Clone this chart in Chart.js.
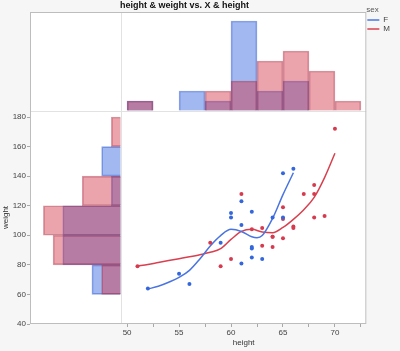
<!DOCTYPE html>
<html>
<head>
<meta charset="utf-8">
<title>height & weight vs. X & height</title>
<script src="https://cdn.jsdelivr.net/npm/chart.js@4.4.1/dist/chart.umd.min.js"></script>
<style>
  body { margin: 0; background: #f6f6f6; }
  #wrap { position: relative; width: 400px; height: 351px; }
</style>
</head>
<body>
<div id="wrap"><canvas id="chart"></canvas></div>
<script>
/* Data */

const chartTitle = "height & weight vs. X & height";

const fHeights = [52, 55, 56, 59, 60, 60, 61, 61, 61, 62, 62, 62, 62, 63, 64, 65, 65, 66];
const fWeights = [64, 74, 67, 95, 115, 112, 123, 107, 81, 116, 92, 91, 85, 84, 112, 142, 112, 145];

const mHeights = [51, 58, 59, 60, 61, 62, 63, 63, 64, 64, 64, 65, 65, 65, 66, 66, 67, 68, 68, 68, 69, 70];
const mWeights = [79, 95, 79, 84, 128, 104, 105, 93, 99, 99, 92, 119, 111, 98, 106, 105, 128, 134, 128, 112, 113, 172];

// smoother curves
const fFitHeights = [52, 53, 54, 55, 56, 57, 58, 59, 60, 61, 62, 62.5, 63, 64, 65, 66];
const fFitWeights = [63.7, 65.5, 68.2, 71.5, 76.3, 84.0, 92.8, 99.8, 104.0, 102.6, 99.0, 98.3, 99.8, 111.4, 127.5, 142.3];

const mFitHeights = [51, 52, 53, 54, 55, 56, 57, 58, 59, 60, 61, 62, 63, 64, 65, 66, 67, 68, 69, 70];
const mFitWeights = [79.2, 80.3, 81.6, 82.9, 84.2, 85.5, 86.9, 88.5, 91.0, 97.2, 102.6, 104.0, 102.2, 101.7, 105.3, 110.8, 117.3, 125.6, 139.0, 155.5];

// histogram counts
const heightBins = [51.25, 53.75, 56.25, 58.75, 61.25, 63.75, 66.25, 68.75, 71.25];
const fHeightCounts = [1, 0, 2, 1, 9, 2, 3, 0, 0];
const mHeightCounts = [1, 0, 0, 2, 3, 5, 6, 4, 1];

const weightBins = [70, 90, 110, 130, 150, 170];
const fWeightCounts = [3, 6, 6, 1, 2, 0];
const mWeightCounts = [2, 7, 8, 4, 0, 1];

const xMajorTicks = [50, 55, 60, 65, 70];
const xMinorTicks = [52.5, 57.5, 62.5, 67.5, 72.5];
const yTicks = [40, 60, 80, 100, 120, 140, 160, 180];

/* Colors */

const fPoint = "#3467dd";
const mPoint = "#d73a4e";
const fLine = "#4a74e0";
const mLine = "#d9404f";
const fFill = "rgba(55,105,225,0.47)";
const mFill = "rgba(210,50,70,0.45)";
const fEdge = "rgba(55,95,205,0.55)";
const mEdge = "rgba(160,35,60,0.45)";

Chart.defaults.font.family = "'Liberation Sans', Arial, sans-serif";
Chart.defaults.font.size = 8;

const toPoints = (xs, ys) => xs.map((x, i) => ({ x: x, y: ys[i] }));

const topBars = counts => heightBins
    .map((h, i) => ({ x: h, y: counts[i] }))
    .filter(d => d.y > 0);

const sideBars = counts => weightBins
    .map((w, i) => ({ x: counts[i], y: w }))
    .filter(d => d.x > 0);

const histBar = (label, data, color, edge, order, extra) => Object.assign({
    type: "bar",
    label: label,
    data: data,
    backgroundColor: color,
    borderColor: edge,
    borderWidth: 1,
    grouped: false,
    barPercentage: 1,
    categoryPercentage: 1,
    order: order
}, extra);

// empty band above the plot, split so the title sits left of centre
const bandScale = (stackWeight, weight, title) => ({
    type: "linear",
    axis: "x",
    position: "top",
    stack: "t",
    stackWeight: stackWeight,
    weight: weight,
    grid: { display: false },
    border: { display: false },
    ticks: { display: false },
    afterFit: scale => { scale.height = 12; },
    title: title
});

/* Background and frame */

const panelPlugin = {
    id: "panels",
    beforeDraw(chart) {
        const { ctx, chartArea: a } = chart;
        ctx.save();
        ctx.fillStyle = "#f6f6f6";
        ctx.fillRect(0, 0, chart.width, chart.height);
        ctx.fillStyle = "#ffffff";
        ctx.fillRect(a.left, a.top, a.right - a.left, a.bottom - a.top);
        ctx.restore();
    },
    afterDraw(chart) {
        const { ctx, chartArea: a } = chart;
        ctx.save();
        ctx.strokeStyle = "#bdbdbd";
        ctx.lineWidth = 1;
        ctx.strokeRect(a.left + 0.5, a.top + 0.5, a.right - a.left - 1, a.bottom - a.top - 1);
        ctx.restore();
    }
};

/* Chart */

new Chart(document.querySelector("#chart"), {
    type: "scatter",
    data: {
        datasets: [
            {
                type: "scatter",
                label: "F points",
                data: toPoints(fHeights, fWeights),
                xAxisID: "x",
                yAxisID: "y",
                pointRadius: 2,
                pointBackgroundColor: fPoint,
                pointBorderWidth: 0,
                order: 0
            },
            {
                type: "scatter",
                label: "M points",
                data: toPoints(mHeights, mWeights),
                xAxisID: "x",
                yAxisID: "y",
                pointRadius: 2,
                pointBackgroundColor: mPoint,
                pointBorderWidth: 0,
                order: 0
            },
            {
                type: "line",
                label: "F",
                data: toPoints(fFitHeights, fFitWeights),
                xAxisID: "x",
                yAxisID: "y",
                borderColor: fLine,
                backgroundColor: fLine,
                borderWidth: 1.5,
                pointRadius: 0,
                cubicInterpolationMode: "monotone",
                order: 1
            },
            {
                type: "line",
                label: "M",
                data: toPoints(mFitHeights, mFitWeights),
                xAxisID: "x",
                yAxisID: "y",
                borderColor: mLine,
                backgroundColor: mLine,
                borderWidth: 1.5,
                pointRadius: 0,
                cubicInterpolationMode: "monotone",
                order: 1
            },
            histBar("M height", topBars(mHeightCounts), mFill, mEdge, 2,
                { xAxisID: "x", yAxisID: "yTop" }),
            histBar("F height", topBars(fHeightCounts), fFill, fEdge, 3,
                { xAxisID: "x", yAxisID: "yTop" }),
            histBar("M weight", sideBars(mWeightCounts), mFill, mEdge, 2,
                { indexAxis: "y", xAxisID: "xLeft", yAxisID: "y" }),
            histBar("F weight", sideBars(fWeightCounts), fFill, fEdge, 3,
                { indexAxis: "y", xAxisID: "xLeft", yAxisID: "y" })
        ]
    },
    options: {
        responsive: true,
        maintainAspectRatio: false,
        animation: false,
        events: [],
        layout: {
            padding: 0
        },
        plugins: {
            tooltip: { enabled: false },
            legend: {
                position: "right",
                align: "start",
                maxWidth: 35,
                title: {
                    display: true,
                    text: "sex",
                    position: "start",
                    color: "#555",
                    font: { size: 8 },
                    padding: { top: 6, bottom: -0.6 }
                },
                labels: {
                    usePointStyle: true,
                    pointStyle: "line",
                    pointStyleWidth: 12,
                    padding: 1,
                    color: "#444",
                    font: { size: 8 },
                    filter: (item, data) => data.datasets[item.datasetIndex].type === "line"
                }
            }
        },
        scales: {
            x: {
                type: "linear",
                position: "bottom",
                stack: "h",
                stackWeight: 244.3,
                weight: 1,
                min: 49.42,
                max: 73.02,
                offset: false,
                grid: {
                    display: true,
                    drawOnChartArea: false,
                    drawTicks: true,
                    tickLength: 3,
                    color: "#a8a8a8",
                    offset: false
                },
                border: { display: false },
                ticks: {
                    autoSkip: false,
                    maxRotation: 0,
                    padding: 1,
                    color: "#444",
                    callback: value => xMajorTicks.includes(value) ? value : ""
                },
                afterBuildTicks: scale => {
                    scale.ticks = [...xMajorTicks, ...xMinorTicks]
                        .sort((a, b) => a - b)
                        .map(v => ({ value: v }));
                },
                afterFit: scale => { scale.height = 27; },
                title: {
                    display: true,
                    text: "height",
                    color: "#333",
                    padding: { top: 0, bottom: 3.5 }
                }
            },
            xLeft: {
                type: "linear",
                axis: "x",
                position: "bottom",
                stack: "h",
                stackWeight: 90.7,
                weight: 0,
                min: 0,
                max: 9.38,
                reverse: true,
                offset: false,
                grid: { color: "#e2e2e2", drawTicks: false, offset: false },
                border: { display: false },
                ticks: { display: false },
                afterBuildTicks: scale => { scale.ticks = [{ value: 0 }]; },
                afterFit: scale => { scale.height = 27; }
            },
            titleBand: bandScale(308, 1, {
                display: true,
                text: chartTitle,
                color: "#111",
                font: { size: 9, weight: "bold" },
                padding: { top: 0.6, bottom: 0 }
            }),
            restBand: bandScale(27, 0, { display: false }),
            y: {
                type: "linear",
                position: "left",
                stack: "v",
                stackWeight: 213,
                weight: 0,
                min: 40,
                max: 184.06,
                offset: false,
                grid: {
                    display: true,
                    drawOnChartArea: false,
                    drawTicks: true,
                    tickLength: 3,
                    color: "#a8a8a8",
                    offset: false
                },
                border: { display: false },
                ticks: { padding: 1, color: "#444" },
                afterBuildTicks: scale => {
                    scale.ticks = yTicks.map(v => ({ value: v }));
                },
                afterFit: scale => { scale.width = 30; },
                title: {
                    display: true,
                    text: "weight",
                    color: "#333",
                    padding: { top: 1, bottom: 0 }
                }
            },
            yTop: {
                type: "linear",
                axis: "y",
                position: "left",
                stack: "v",
                stackWeight: 99,
                weight: 1,
                min: 0,
                max: 9.9,
                offset: false,
                grid: { color: "#e2e2e2", drawTicks: false, offset: false },
                border: { display: false },
                ticks: { display: false },
                afterBuildTicks: scale => { scale.ticks = [{ value: 0 }]; },
                afterFit: scale => { scale.width = 30; }
            }
        }
    },
    plugins: [panelPlugin]
});
</script>
</body>
</html>
